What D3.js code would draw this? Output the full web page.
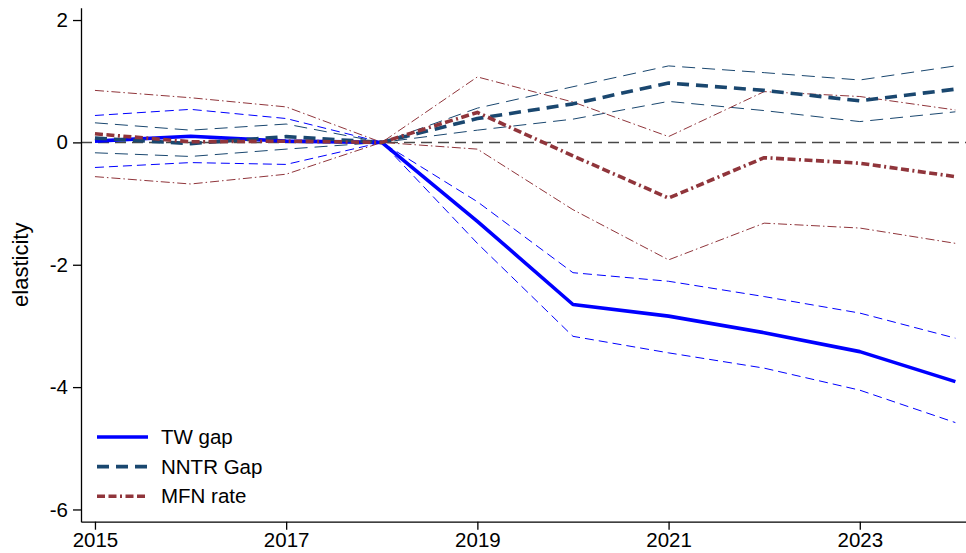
<!DOCTYPE html>
<html>
<head>
<meta charset="utf-8">
<script src="https://cdn.jsdelivr.net/npm/d3@7"></script>
<style>
  html, body { margin: 0; padding: 0; background: #fff; }
  svg { display: block; font-family: "Liberation Sans", Arial, Helvetica, sans-serif; }
</style>
</head>
<body>
<svg id="chart" width="966" height="553"></svg>
<script>
// Event-study elasticities by year, with 95% confidence bands
const years = [2015, 2016, 2017, 2018, 2019, 2020, 2021, 2022, 2023, 2024];

const twGap   = [0.02, 0.10, 0.02, 0, -1.29, -2.65, -2.84, -3.11, -3.42, -3.91];
const twLow   = [-0.41, -0.33, -0.36, 0, -1.65, -3.17, -3.44, -3.69, -4.05, -4.58];
const twHigh  = [0.44, 0.54, 0.39, 0, -0.97, -2.13, -2.27, -2.52, -2.79, -3.20];

const nntrGap  = [0.07, -0.02, 0.095, 0, 0.39, 0.63, 0.97, 0.85, 0.68, 0.87];
const nntrLow  = [-0.17, -0.23, -0.11, 0, 0.20, 0.38, 0.67, 0.52, 0.34, 0.50];
const nntrHigh = [0.32, 0.20, 0.30, 0, 0.56, 0.91, 1.25, 1.14, 1.02, 1.25];

const mfnRate = [0.14, 0.01, 0.02, 0, 0.49, -0.22, -0.91, -0.25, -0.34, -0.56];
const mfnLow  = [-0.56, -0.68, -0.52, 0, -0.11, -1.10, -1.92, -1.32, -1.40, -1.65];
const mfnHigh = [0.85, 0.73, 0.58, 0, 1.07, 0.66, 0.095, 0.83, 0.75, 0.53];

const xTicks = [2015, 2017, 2019, 2021, 2023];
const yTicks = [-6, -4, -2, 0, 2];
const legendLabels = ["TW gap", "NNTR Gap", "MFN rate"];

const colors = { tw: "#0000ff", nntr: "#1a476f", mfn: "#90353b" };

const svg = d3.select("#chart");

const x = d3.scaleLinear().domain([2014.854, 2024.111]).range([81, 966]);
const y = d3.scaleLinear().domain([-6.2, 2.2]).range([521.7, 7.8]);

// zero reference line
svg.append("line")
  .attr("x1", x.range()[0]).attr("x2", x.range()[1])
  .attr("y1", y(0)).attr("y2", y(0))
  .attr("stroke", "#484848").attr("stroke-width", 1.5)
  .attr("stroke-dasharray", "11,6");

const line = d3.line().x((d, i) => x(years[i])).y(d => y(d));

function series(values, color, width, dash) {
  svg.append("path")
    .datum(values)
    .attr("d", line)
    .attr("fill", "none")
    .attr("stroke", color)
    .attr("stroke-width", width)
    .attr("stroke-linejoin", "round")
    .attr("stroke-dasharray", dash);
}

// confidence bands
series(twHigh, colors.tw, 1, "9,5");
series(twLow, colors.tw, 1, "9,5");
series(nntrHigh, colors.nntr, 1, "13,7");
series(nntrLow, colors.nntr, 1, "13,7");
series(mfnHigh, colors.mfn, 1, "9,3,1.5,3");
series(mfnLow, colors.mfn, 1, "9,3,1.5,3");

// point estimates
const thickDash = { tw: null, nntr: "12,7", mfn: "8,3.5,8,3.5,2,3.5" };
series(twGap, colors.tw, 3.6, thickDash.tw);
series(nntrGap, colors.nntr, 3.6, thickDash.nntr);
series(mfnRate, colors.mfn, 3.6, thickDash.mfn);

// axes
const yAxis = d3.axisLeft(y).tickValues(yTicks).tickSize(8).tickSizeOuter(0).tickPadding(5)
  .tickFormat(d => d);
const gy = svg.append("g").attr("transform", `translate(${x.range()[0]},0)`).call(yAxis);

const xAxis = d3.axisBottom(x).tickValues(xTicks).tickSize(8).tickSizeOuter(0).tickPadding(3)
  .tickFormat(d3.format("d"));
const gx = svg.append("g").attr("transform", `translate(0,${y.range()[0]})`).call(xAxis);

[gx, gy].forEach(g => {
  g.select(".domain").attr("stroke", "#000").attr("stroke-width", 1.3);
  g.selectAll(".tick line").attr("stroke", "#000").attr("stroke-width", 1.3);
  g.selectAll(".tick text").attr("fill", "#000").attr("font-size", 20.5)
    .attr("font-family", "'Liberation Sans', Arial, sans-serif");
});
gy.selectAll(".tick text").text(d => d < 0 ? "-" + Math.abs(d) : d);

// y axis title
svg.append("text")
  .attr("transform", `translate(28,${(y.range()[0] + y.range()[1]) / 2}) rotate(-90)`)
  .attr("text-anchor", "middle")
  .attr("font-size", 22)
  .attr("fill", "#000")
  .text("elasticity");

// legend
const legendKeys = ["tw", "nntr", "mfn"];
const lg = svg.append("g").attr("transform", "translate(97,437)");
legendKeys.forEach((k, i) => {
  const row = lg.append("g").attr("transform", `translate(0,${i * 29.6})`);
  row.append("line")
    .attr("x1", 0).attr("x2", 51).attr("y1", 0).attr("y2", 0)
    .attr("stroke", colors[k]).attr("stroke-width", 3.6)
    .attr("stroke-dasharray", thickDash[k]);
  row.append("text")
    .attr("x", 64).attr("y", 0).attr("dy", "0.35em")
    .attr("font-size", 20.5).attr("fill", "#000")
    .text(legendLabels[i]);
});
</script>
</body>
</html>
